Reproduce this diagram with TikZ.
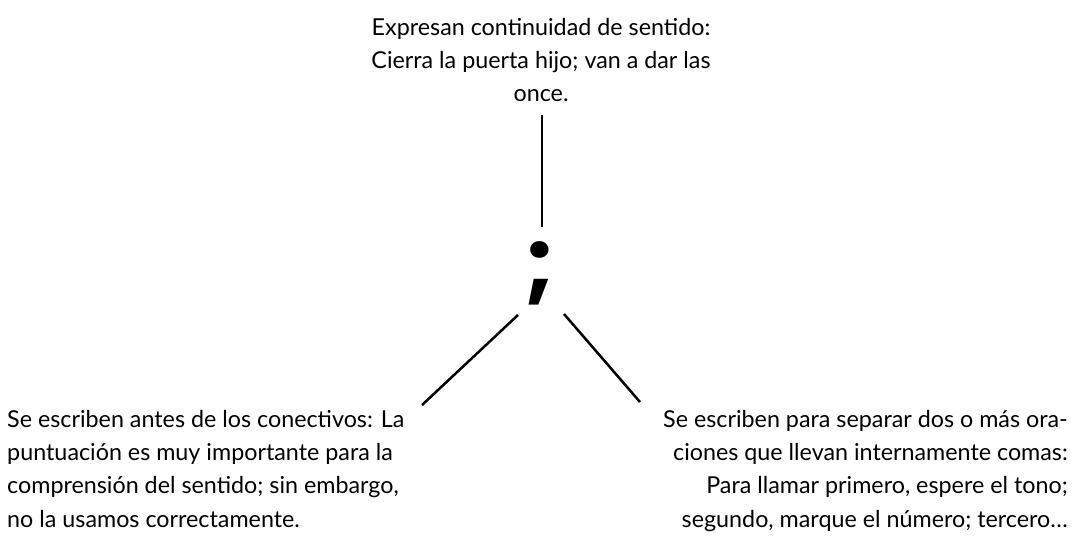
\documentclass[tikz,border=0pt]{standalone}
\usepackage{fontspec}
\setmainfont{Lato}
\newfontfamily\semifont{Poppins}
\begin{document}
\begin{tikzpicture}[x=1pt,y=-1pt,
  txt/.style={inner sep=0pt,font=\fontsize{23.3}{33.2}\selectfont},
  conn/.style={line width=2.5pt,black}]
\useasboundingbox (0,0) rectangle (1076,538);
\node[txt,align=center,anchor=base] (top) at (541,101.7)
  {Expresan continuidad de sentido:\\Cierra la puerta hijo; van a dar las\\once.};
\node[inner sep=0pt,font=\fontsize{90}{90}\semifont\bfseries] (semi) at (540,273) {;};
\node[txt,align=left,anchor=base west] (left) at (7,527)
  {Se escriben antes de los conectivos: La\\puntuación es muy importante para la\\comprensión del sentido; sin embargo,\\no la usamos correctamente.};
\node[txt,align=right,anchor=base east] (right) at (1068,527)
  {Se escriben para separar dos o más ora-\\ciones que llevan internamente comas:\\Para llamar primero, espere el tono;\\segundo, marque el número; tercero\ldots};
\draw[conn] ([shift={(1,13)}]top.base) -- ([shift={(2,-46)}]semi.center);
\draw[conn] ([shift={(-22,42)}]semi.center) -- ([shift={(415,-122)}]left.base west);
\draw[conn] ([shift={(24,41)}]semi.center) -- ([shift={(-428,-125)}]right.base east);
\end{tikzpicture}
\end{document}
